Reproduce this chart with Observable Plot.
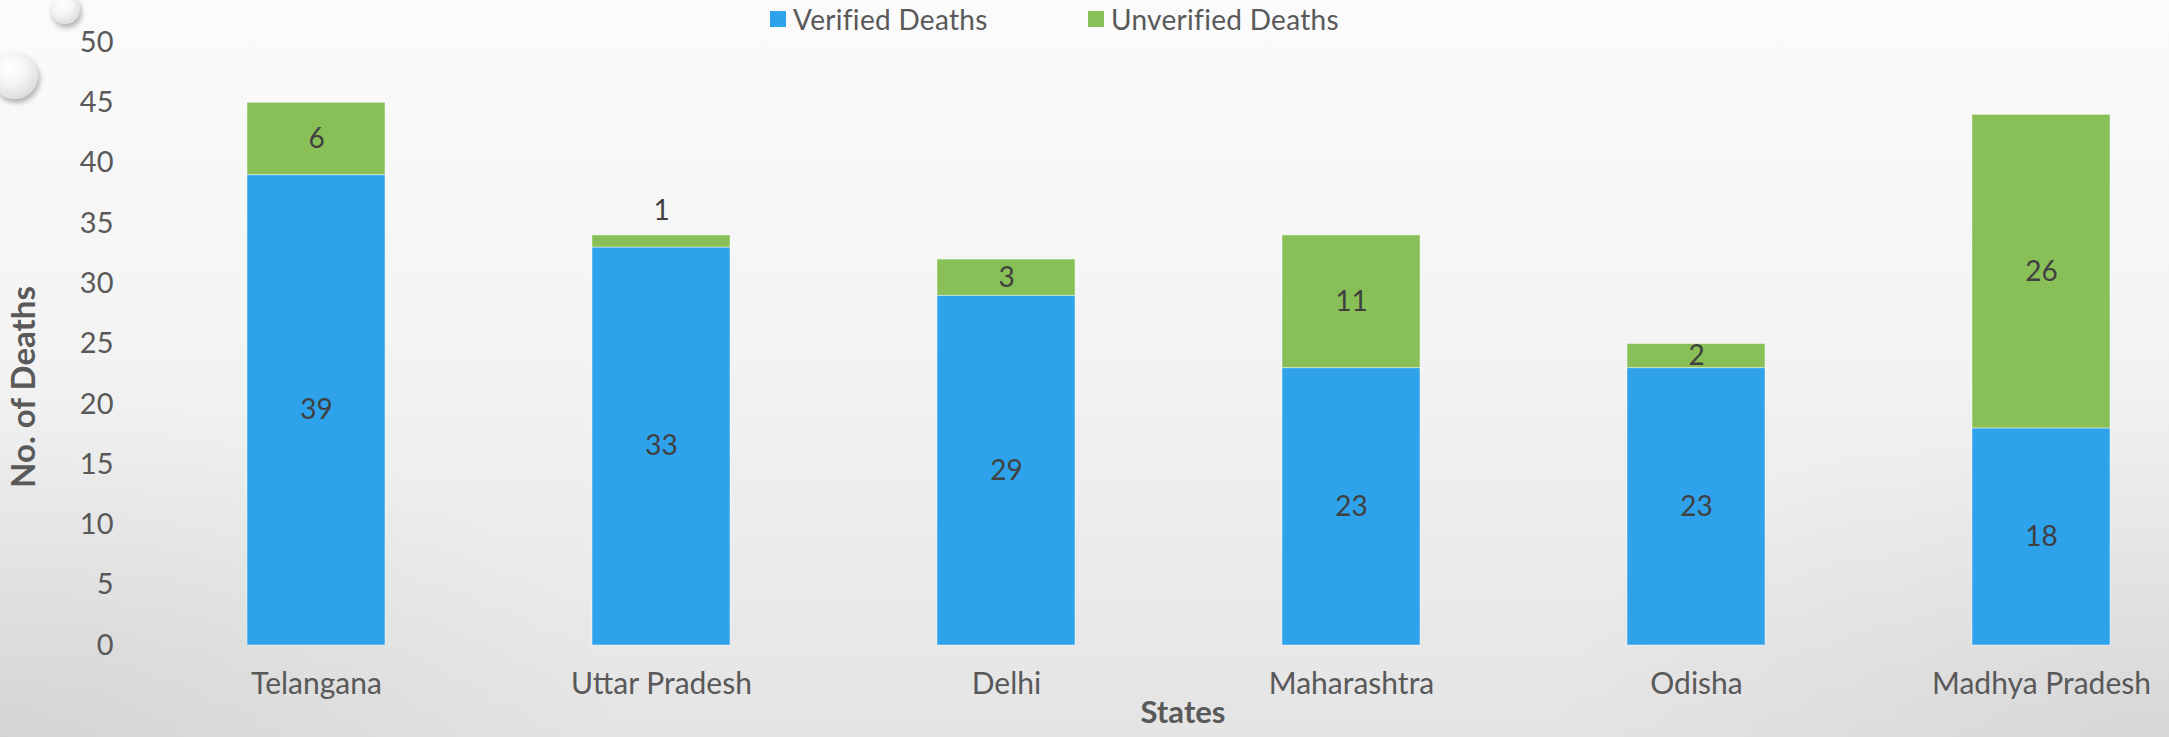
<!DOCTYPE html>
<html>
<head>
<meta charset="utf-8">
<script src="https://cdn.jsdelivr.net/npm/d3@7"></script>
<script src="https://cdn.jsdelivr.net/npm/@observablehq/plot@0.6"></script>
<style>
  html, body { margin: 0; padding: 0; }
  body {
    width: 2169px; height: 737px; overflow: hidden;
    background:
      radial-gradient(ellipse 900px 500px at 0% 100%, rgba(0,0,0,0.07), rgba(0,0,0,0) 70%),
      radial-gradient(ellipse 900px 500px at 100% 100%, rgba(0,0,0,0.06), rgba(0,0,0,0) 70%),
      linear-gradient(to bottom, #fbfbfb 0%, #f4f4f4 45%, #e4e4e4 100%);
    font-family: Lato, "Open Sans", sans-serif;
  }
  #wrap { position: relative; width: 2169px; height: 737px; }
  #chart svg { background: transparent !important; overflow: visible; }
  .legend { position: absolute; top: 3px; left: 0; width: 2169px; height: 32px; font-size: 28px; color: #595959; letter-spacing: 0.3px; }
  .legend .item { position: absolute; top: 0; display: flex; align-items: center; height: 32px; }
  .legend .sw { width: 16px; height: 16px; margin-right: 7px; }
  .drop { position: absolute; border-radius: 50%;
    background: radial-gradient(circle at 40% 35%, #ffffff 0%, #f4f4f4 40%, #d6d6d6 85%, #c8c8c8 100%);
    box-shadow: 2px 4px 5px rgba(0,0,0,0.28); }
</style>
</head>
<body>
<div id="wrap">
  <div class="drop" style="left:50px; top:-6px; width:30px; height:30px;"></div>
  <div class="drop" style="left:-9px; top:52px; width:47px; height:47px;"></div>
  <div class="legend" id="legend"></div>
  <div id="chart"></div>
</div>
<script>
const states = ["Telangana", "Uttar Pradesh", "Delhi", "Maharashtra", "Odisha", "Madhya Pradesh"];
const verified = [39, 33, 29, 23, 23, 18];
const unverified = [6, 1, 3, 11, 2, 26];
const seriesNames = ["Verified Deaths", "Unverified Deaths"];
const seriesColors = ["#2ea3ec", "#88c057"];
const yTicks = [0, 5, 10, 15, 20, 25, 30, 35, 40, 45, 50];

const data = [];
states.forEach((s, i) => {
  data.push({state: s, type: seriesNames[0], value: verified[i]});
  data.push({state: s, type: seriesNames[1], value: unverified[i]});
});

const small = d => d.type === seriesNames[1] && d.value < 2;

const plot = Plot.plot({
  width: 2169,
  height: 737,
  marginTop: 42,
  marginBottom: 92,
  marginLeft: 122,
  marginRight: 0,
  style: {background: "transparent", fontFamily: "Lato, 'Open Sans', sans-serif", color: "#595959"},
  x: {domain: states, range: [141, 2216], paddingInner: 0.6, paddingOuter: 0.3, align: 0.5},
  y: {domain: [0, 50]},
  color: {domain: seriesNames, range: seriesColors},
  marks: [
    Plot.barY(data, {x: "state", y: "value", fill: "type", stroke: "#ffffff", strokeOpacity: 0.45, strokeWidth: 1}),
    Plot.text(data, Plot.stackY({x: "state", y: "value", z: "type",
      text: d => small(d) ? "" : String(d.value), fontSize: 28, fill: "#404040"})),
    Plot.text(data, Plot.stackY2({x: "state", y: "value", z: "type",
      text: d => small(d) ? String(d.value) : "", dy: -24, fontSize: 28, fill: "#404040"})),
    Plot.axisY({ticks: yTicks, tickSize: 0, tickPadding: 9, fontSize: 29, label: null, fill: "#595959"}),
    Plot.axisX({tickSize: 0, tickPadding: 27, fontSize: 30, label: null, fill: "#595959"}),
    Plot.text(["No. of Deaths"], {frameAnchor: "left", textAnchor: "middle", rotate: -90, dx: -98, dy: 43,
      fontSize: 33, fontWeight: "bold", fill: "#595959"}),
    Plot.text(["States"], {frameAnchor: "bottom", dx: 37, dy: 77,
      fontSize: 31, fontWeight: "bold", fill: "#595959"})
  ]
});
document.getElementById("chart").appendChild(plot);

const legend = document.getElementById("legend");
const legendX = [770, 1088];
seriesNames.forEach((name, i) => {
  const item = document.createElement("div");
  item.className = "item";
  item.style.left = legendX[i] + "px";
  const sw = document.createElement("div");
  sw.className = "sw";
  sw.style.background = seriesColors[i];
  const label = document.createElement("span");
  label.textContent = name;
  item.appendChild(sw);
  item.appendChild(label);
  legend.appendChild(item);
});
</script>
</body>
</html>
